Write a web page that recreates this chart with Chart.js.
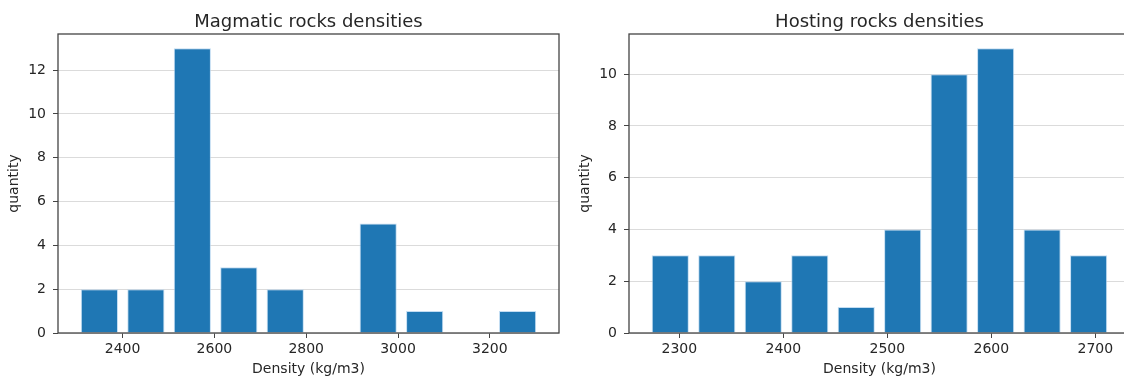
<!DOCTYPE html>
<html>
<head>
<meta charset="utf-8">
<script src="https://cdn.jsdelivr.net/npm/chart.js@4.4.1/dist/chart.umd.min.js"></script>
<style>
  html, body { margin: 0; padding: 0; background: #fff; overflow: hidden; width: 1124px; height: 379px; }
  .panel { position: absolute; top: 0; width: 570px; height: 379px; }
  #leftPanel { left: 0; }
  #rightPanel { left: 571px; }
</style>
</head>
<body>
<div class="panel" id="leftPanel"><canvas id="magmatic" width="570" height="379"></canvas></div>
<div class="panel" id="rightPanel"><canvas id="hosting" width="570" height="379"></canvas></div>
<script>
// Histogram bins (bin centres, kg/m3) and counts
const magmaticBinCenters = [2349.6, 2450.8, 2552.0, 2653.2, 2754.4, 2855.6, 2956.8, 3058.0, 3159.2, 3260.4];
const magmaticCounts     = [2, 2, 13, 3, 2, 0, 5, 1, 0, 1];
const magmaticXTicks     = [2400, 2600, 2800, 3000, 3200];
const magmaticYTicks     = [0, 2, 4, 6, 8, 10, 12];

const hostingBinCenters  = [2291.3, 2336.0, 2380.7, 2425.4, 2470.1, 2514.7, 2559.4, 2604.1, 2648.8, 2693.5];
const hostingCounts      = [3, 3, 2, 3, 1, 4, 10, 11, 4, 3];
const hostingXTicks      = [2300, 2400, 2500, 2600, 2700];
const hostingYTicks      = [0, 2, 4, 6, 8, 10];

const FONT = "'DejaVu Sans', sans-serif";
const TEXT = '#262626';
const BAR = '#1f77b4';

// Box around the plotting area
const framePlugin = {
  id: 'frame',
  afterDraw(chart) {
    const { ctx, chartArea: a } = chart;
    ctx.save();
    ctx.strokeStyle = '#444';
    ctx.lineWidth = 1.3;
    ctx.strokeRect(a.left, a.top, a.right - a.left, a.bottom - a.top);
    ctx.restore();
  }
};

// Title centred over the plotting area (not the whole canvas)
const axesTitlePlugin = {
  id: 'axesTitle',
  afterDraw(chart, args, opts) {
    const { ctx, chartArea: a } = chart;
    ctx.save();
    ctx.fillStyle = TEXT;
    ctx.font = `18px ${FONT}`;
    ctx.textAlign = 'center';
    ctx.textBaseline = 'alphabetic';
    ctx.fillText(opts.text, (a.left + a.right) / 2, 26.5);
    ctx.restore();
  }
};

function histogram(canvasId, title, centers, counts, xTicks, yTicks, xRange, yMax) {
  return new Chart(document.getElementById(canvasId), {
    type: 'bar',
    data: {
      datasets: [{
        data: centers.map((c, i) => ({ x: c, y: counts[i] })),
        backgroundColor: BAR,
        borderColor: 'rgba(175,210,238,0.75)',
        borderWidth: 1,
        barPercentage: 0.8,
        categoryPercentage: 1.0
      }]
    },
    options: {
      responsive: false,
      animation: false,
      events: [],
      layout: { padding: { left: 0, right: 11, top: 34, bottom: 0 } },
      plugins: {
        legend: { display: false },
        tooltip: { enabled: false },
        title: { display: false },
        axesTitle: { text: title }
      },
      scales: {
        x: {
          type: 'linear',
          min: xRange[0],
          max: xRange[1],
          offset: false,
          border: { display: false },
          grid: {
            display: true,
            offset: false,
            drawOnChartArea: false,
            drawTicks: true,
            tickLength: 5,
            tickColor: '#444',
            tickWidth: 1
          },
          afterBuildTicks: s => { s.ticks = xTicks.map(v => ({ value: v })); },
          afterFit: s => { s.height = 46; },
          ticks: {
            color: TEXT,
            padding: 3,
            maxRotation: 0,
            autoSkip: false,
            font: { family: FONT, size: 14 },
            callback: v => String(v)
          },
          title: {
            display: true,
            text: 'Density (kg/m3)',
            color: TEXT,
            font: { family: FONT, size: 14 },
            padding: { top: 0, bottom: 1.6 }
          }
        },
        y: {
          type: 'linear',
          min: 0,
          max: yMax,
          z: 1,
          border: { display: false },
          grid: {
            color: 'rgba(195,195,195,0.6)',
            lineWidth: 1,
            drawTicks: true,
            tickLength: 5,
            tickColor: '#444',
            tickWidth: 1
          },
          afterBuildTicks: s => { s.ticks = yTicks.map(v => ({ value: v })); },
          afterFit: s => { s.width = 58; },
          ticks: {
            color: TEXT,
            padding: 7,
            autoSkip: false,
            font: { family: FONT, size: 14 },
            callback: v => String(v)
          },
          title: {
            display: true,
            text: 'quantity',
            color: TEXT,
            font: { family: FONT, size: 14 },
            padding: { top: 5.6, bottom: 0 }
          }
        }
      }
    },
    plugins: [framePlugin, axesTitlePlugin]
  });
}

histogram('magmatic', 'Magmatic rocks densities', magmaticBinCenters, magmaticCounts,
          magmaticXTicks, magmaticYTicks, [2259.4, 3350.6], 13.65);
histogram('hosting', 'Hosting rocks densities', hostingBinCenters, hostingCounts,
          hostingXTicks, hostingYTicks, [2251.6, 2733.3], 11.55);
</script>
</body>
</html>
